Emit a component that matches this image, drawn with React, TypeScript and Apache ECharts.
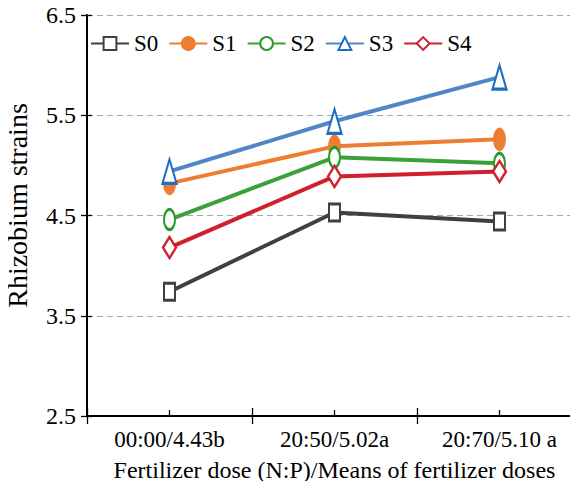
import React, { useEffect, useRef } from "react";
import * as echarts from "echarts";

const categories = ["00:00/4.43b", "20:50/5.02a", "20:70/5.10 a"];
const s0 = [3.74, 4.53, 4.44];
const s1 = [4.82, 5.19, 5.26];
const s2 = [4.46, 5.08, 5.02];
const s3 = [4.94, 5.44, 5.88];
const s4 = [4.18, 4.89, 4.94];
const yTicks = [2.5, 3.5, 4.5, 5.5, 6.5];

const FONT = "Liberation Serif, serif";

export default function App() {
  const ref = useRef<HTMLDivElement>(null);
  useEffect(() => {
    if (!ref.current) return;
    const chart = echarts.init(ref.current, null, { renderer: "svg" });
    const mk = (
      name: string,
      data: number[],
      lineColor: string,
      markColor: string,
      symbol: string,
      size: number[],
      filled: boolean
    ) => ({
      name,
      type: "line",
      data,
      symbol,
      symbolSize: size,
      showAllSymbol: true,
      z: 3,
      lineStyle: { color: lineColor, width: 4 },
      itemStyle: {
        color: filled ? markColor : "#ffffff",
        borderColor: markColor,
        borderWidth: 2.5,
      },
    });
    const tickStyle = { color: "#000", width: 1.3 };
    chart.setOption({
      animation: false,
      textStyle: { fontFamily: FONT },
      legend: {
        left: 85,
        top: 27,
        itemWidth: 38,
        itemHeight: 16,
        itemGap: 10,
        textStyle: { fontFamily: FONT, fontSize: 23, color: "#000" },
        data: ["S0", "S1", "S2", "S3", "S4"],
      },
      grid: { left: 87, right: -4, top: 15, bottom: 73, outerBoundsMode: "none", containLabel: false },
      xAxis: [
        {
          type: "category",
          data: categories,
          boundaryGap: true,
          axisLine: { lineStyle: { color: "#000", width: 2 } },
          axisTick: { show: true, length: 8, lineStyle: tickStyle },
          axisLabel: { fontFamily: FONT, fontSize: 23, color: "#000", margin: 12 },
          name: "Fertilizer dose (N:P)/Means of fertilizer doses",
          nameLocation: "middle",
          nameGap: 42,
          nameTextStyle: { fontFamily: FONT, fontSize: 24, color: "#000" },
        },
        {
          type: "category",
          data: categories,
          position: "bottom",
          axisLine: { show: false },
          axisTick: { show: true, inside: true, length: 8, lineStyle: tickStyle },
          axisLabel: { show: false },
        },
        {
          type: "category",
          data: categories,
          position: "bottom",
          axisLine: { show: false },
          axisTick: {
            show: true,
            alignWithLabel: true,
            inside: true,
            length: 6,
            lineStyle: tickStyle,
          },
          axisLabel: { show: false },
        },
      ],
      yAxis: [
        {
          type: "value",
          min: yTicks[0],
          max: yTicks[yTicks.length - 1],
          interval: 1,
          axisLine: { show: true, lineStyle: { color: "#000", width: 2 } },
          axisTick: { show: true, length: 6, lineStyle: tickStyle },
          axisLabel: {
            fontFamily: FONT,
            fontSize: 24,
            color: "#000",
            margin: 11,
            formatter: (v: number) => v.toFixed(1),
          },
          splitLine: {
            show: true,
            lineStyle: { color: "#a6a6a6", type: [6, 4], width: 1.2 },
          },
          name: "Rhizobium strains",
          nameLocation: "middle",
          nameGap: 56,
          nameTextStyle: {
            fontFamily: FONT,
            fontSize: 28,
            color: "#000",
            padding: [0, 0, 0, 20],
          },
        },
        {
          type: "value",
          min: yTicks[0],
          max: yTicks[yTicks.length - 1],
          interval: 1,
          position: "left",
          axisLine: { show: false },
          axisTick: { show: true, inside: true, length: 5, lineStyle: tickStyle },
          axisLabel: { show: false },
          splitLine: { show: false },
        },
      ],
      series: [
        mk("S0", s0, "#404040", "#404040", "rect", [11, 17], false),
        mk("S1", s1, "#ed7d31", "#ed7d31", "circle", [11, 20], true),
        mk("S2", s2, "#3aa03a", "#2a9a2a", "circle", [11, 20], false),
        mk("S3", s3, "#4f87c6", "#1f6ec0", "triangle", [14, 24], false),
        mk("S4", s4, "#d0202e", "#d0202e", "diamond", [13, 21], false),
      ],
    });
    return () => chart.dispose();
  }, []);
  return <div ref={ref} style={{ width: 578, height: 489, margin: -8 }} />;
}
